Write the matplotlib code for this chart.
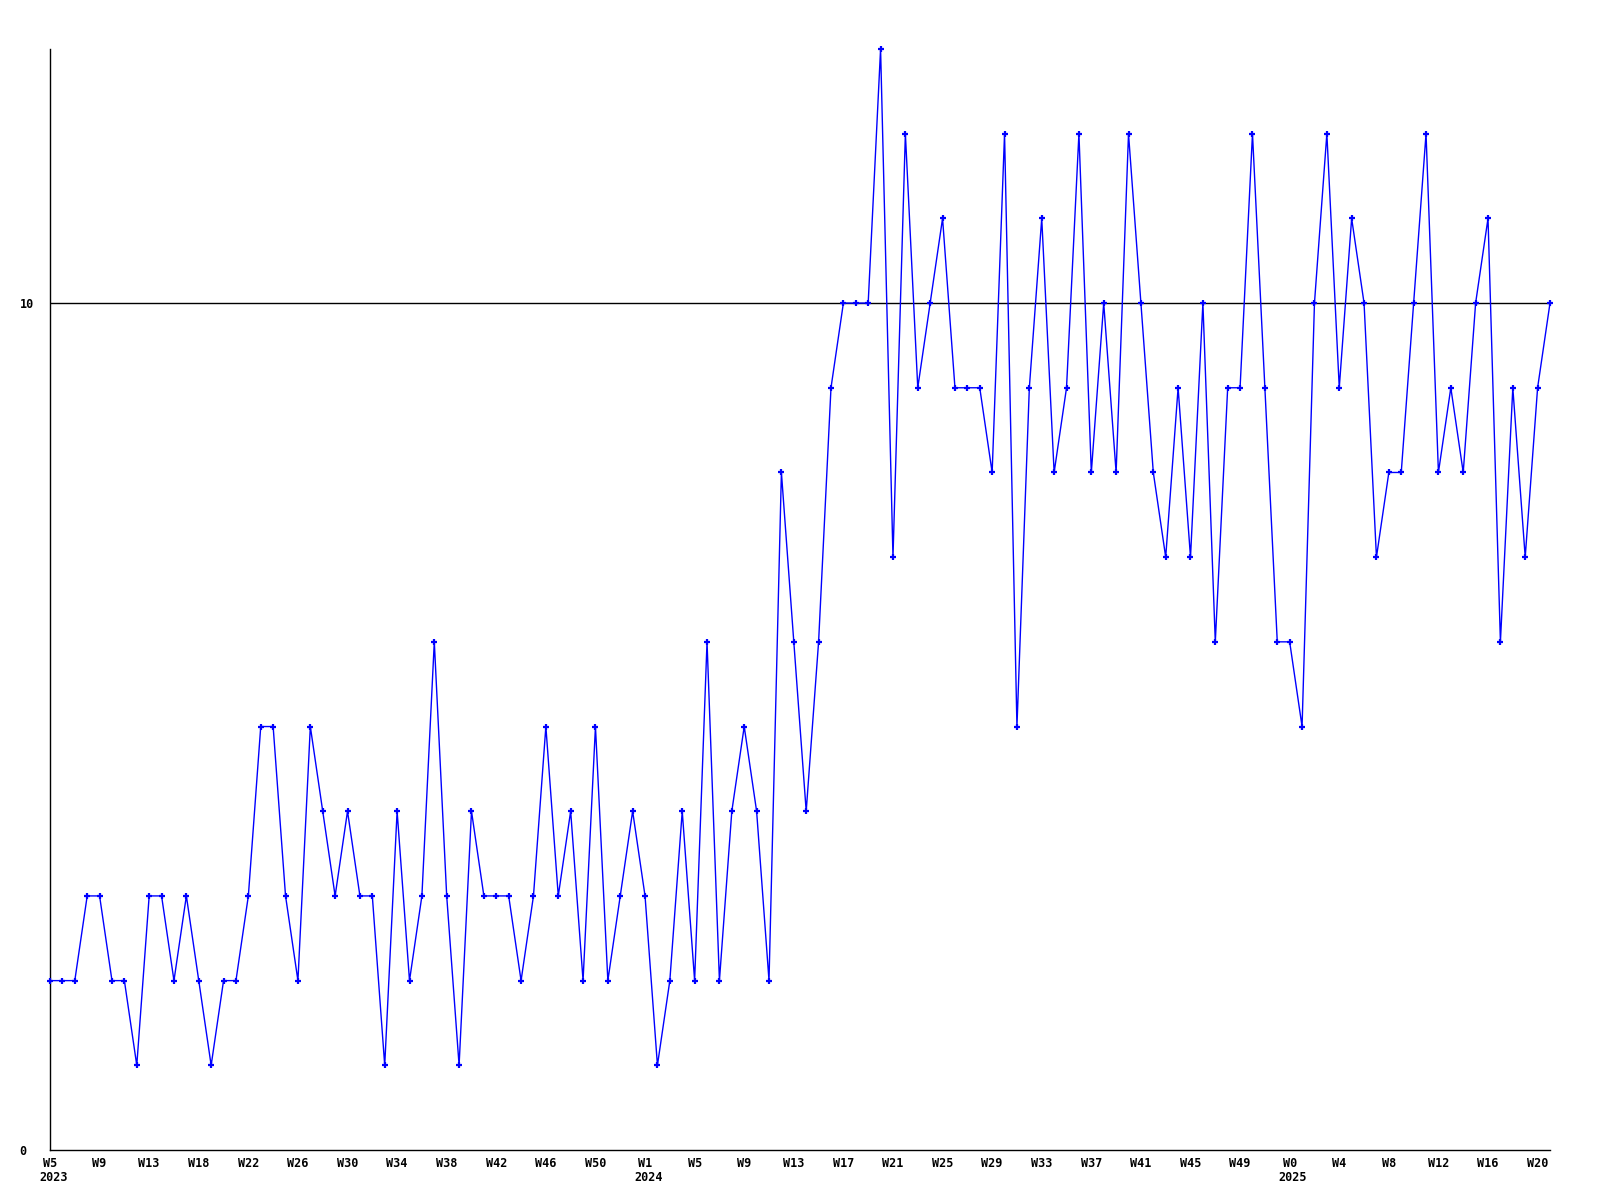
import matplotlib
matplotlib.use("Agg")
import matplotlib.pyplot as plt

# weekly counts, one point per week
values = [
    2, 2, 2, 3, 3, 2, 2, 1, 3, 3, 2, 3, 2, 1, 2, 2, 3, 5, 5, 3,
    2, 5, 4, 3, 4, 3, 3, 1, 4, 2, 3, 6, 3, 1, 4, 3, 3, 3, 2, 3,
    5, 3, 4, 2, 5, 2, 3, 4, 3, 1, 2, 4, 2, 6, 2, 4, 5, 4, 2, 8,
    6, 4, 6, 9, 10, 10, 10, 13, 7, 12, 9, 10, 11, 9, 9, 9, 8, 12, 5, 9,
    11, 8, 9, 12, 8, 10, 8, 12, 10, 8, 7, 9, 7, 10, 6, 9, 9, 12, 9, 6,
    6, 5, 10, 12, 9, 11, 10, 7, 8, 8, 10, 12, 8, 9, 8, 10, 11, 6, 9, 7,
    9, 10,
]

# a label every 4th week
week_labels = [
    "W5", "W9", "W13", "W18", "W22", "W26", "W30", "W34", "W38", "W42",
    "W46", "W50", "W1", "W5", "W9", "W13", "W17", "W21", "W25", "W29",
    "W33", "W37", "W41", "W45", "W49", "W0", "W4", "W8", "W12", "W16", "W20",
]
year_labels = {0: "2023", 48: "2024", 100: "2025"}

x = list(range(len(values)))
tick_pos = list(range(0, 4 * len(week_labels), 4))

font = dict(family="DejaVu Sans Mono", weight="bold", size=8.5)

fig = plt.figure(figsize=(16, 12), dpi=100)
ax = fig.add_axes([50 / 1600, 1 - 1150 / 1200, 1500 / 1600, 1101 / 1200])

ax.axhline(10, color="black", lw=1, zorder=1)
ax.plot(x, values, color="#0000ff", lw=1.0, marker="+", ms=4.5, mew=1.6, zorder=3,
        clip_on=False)

ax.set_xlim(0, len(values) - 1)
ax.set_ylim(0, 13)

ax.set_xticks(tick_pos)
ax.set_xticklabels(week_labels, **font)
ax.set_yticks([0, 10])
ax.set_yticklabels(["0", "10"], ha="left", **font)
ax.tick_params(axis="both", length=0)
ax.tick_params(axis="x", pad=5)
ax.tick_params(axis="y", pad=22)

# year under the first week of each year
for pos, yr in year_labels.items():
    ax.annotate(yr, xy=(pos, 0), xycoords=("data", "axes fraction"),
                xytext=(-8, -15), textcoords="offset points",
                ha="left", va="top", **font)

for side in ["top", "right"]:
    ax.spines[side].set_visible(False)
for side in ["left", "bottom"]:
    ax.spines[side].set_color("black")
    ax.spines[side].set_linewidth(1)

fig.savefig("out.png", dpi=100)
